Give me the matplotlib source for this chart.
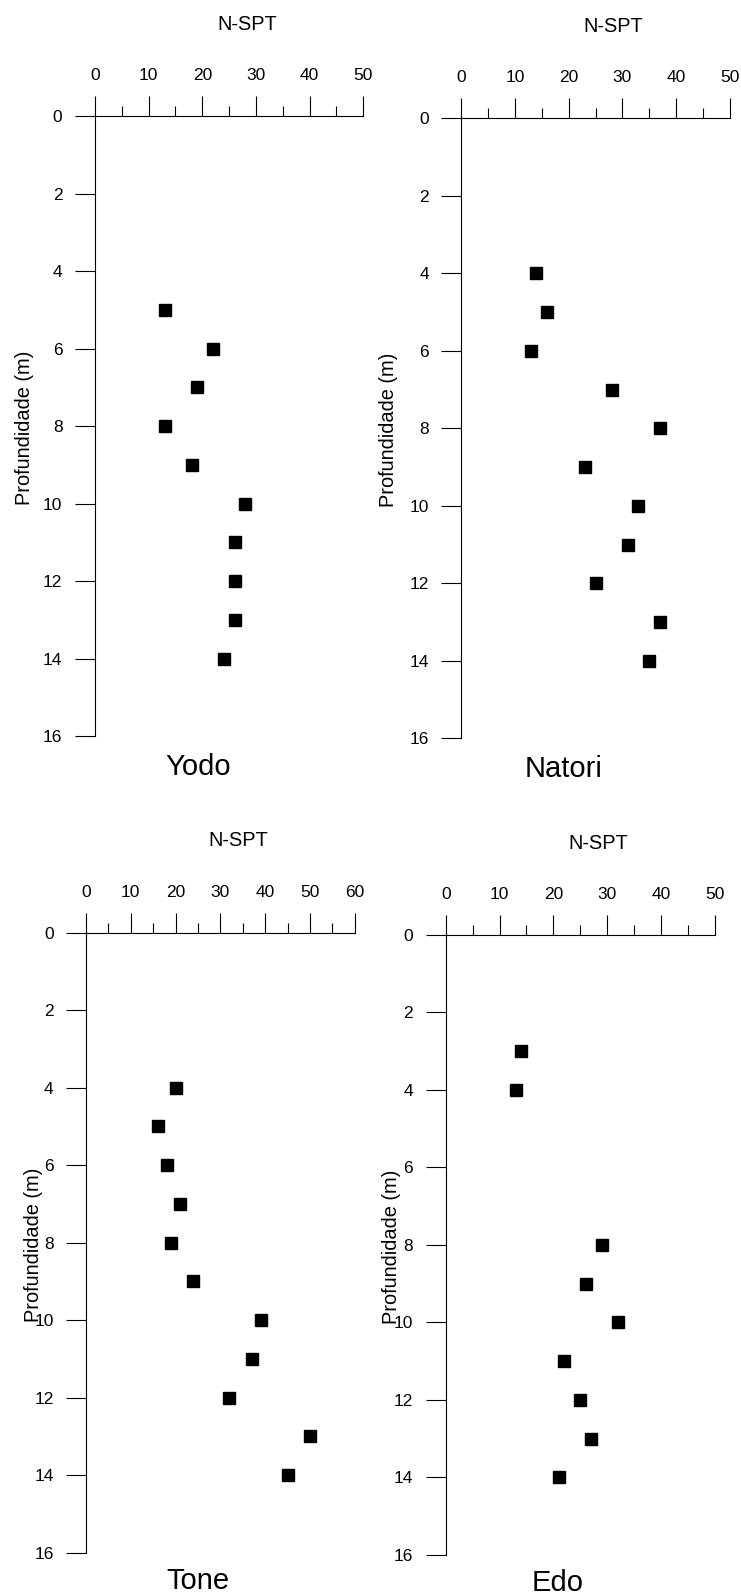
import matplotlib
matplotlib.use("Agg")
import matplotlib.pyplot as plt
from matplotlib.ticker import MultipleLocator

plt.rcParams['font.family'] = ['Liberation Sans', 'DejaVu Sans']

# ---- data ----
yodo_depth = [5, 6, 7, 8, 9, 10, 11, 12, 13, 14]
yodo_nspt = [13, 22, 19, 13, 18, 28, 26, 26, 26, 24]

natori_depth = [4, 5, 6, 7, 8, 9, 10, 11, 12, 13, 14]
natori_nspt = [14, 16, 13, 28, 37, 23, 33, 31, 25, 37, 35]

tone_depth = [4, 5, 6, 7, 8, 9, 10, 11, 12, 13, 14]
tone_nspt = [20, 16, 18, 21, 19, 24, 39, 37, 32, 50, 45]

edo_depth = [3, 4, 8, 9, 10, 11, 12, 13, 14]
edo_nspt = [14, 13, 29, 26, 32, 22, 25, 27, 21]

names = ["Yodo", "Natori", "Tone", "Edo"]
xmax = [50, 50, 60, 50]
depth_ticks = [0, 2, 4, 6, 8, 10, 12, 14, 16]
xlabel = "N-SPT"
ylabel = "Profundidade (m)"

# ---- layout ----
W, H = 741, 1595
fig = plt.figure(figsize=(W / 100, H / 100), dpi=100)

boxes = [  # left, top, right, bottom in pixels
    (95, 116.3, 363.3, 736),
    (461.3, 118.3, 729.7, 738.3),
    (86, 932.7, 354.7, 1552.7),
    (445.7, 935, 714.7, 1554.7),
]
ylab_x = [-0.2646, -0.273, -0.197, -0.200]
name_pos = [(0.384, -0.0629), (0.382, -0.0624), (0.417, -0.0585), (0.4175, -0.0586)]

datasets = [
    (yodo_nspt, yodo_depth),
    (natori_nspt, natori_depth),
    (tone_nspt, tone_depth),
    (edo_nspt, edo_depth),
]

for i, ((xs, ys), (l, t, r, b)) in enumerate(zip(datasets, boxes)):
    ax = fig.add_axes([l / W, (H - b) / H, (r - l) / W, (b - t) / H])
    ax.plot(xs, ys, linestyle='none', marker='s', markersize=8.2,
            color='black', clip_on=False)
    ax.set_xlim(0, xmax[i])
    ax.set_ylim(16, 0)
    ax.xaxis.set_major_locator(MultipleLocator(10))
    ax.xaxis.set_minor_locator(MultipleLocator(5))
    ax.set_yticks(depth_ticks)
    for s in ['right', 'bottom']:
        ax.spines[s].set_visible(False)
    for s in ['left', 'top']:
        ax.spines[s].set_linewidth(0.8)
        ax.spines[s].set_color('black')
    ax.tick_params(axis='x', which='both', top=True, bottom=False,
                   labeltop=True, labelbottom=False, direction='out',
                   width=0.8, labelsize=12.5)
    ax.tick_params(axis='x', which='major', length=14.4, pad=9.5)
    ax.tick_params(axis='x', which='minor', length=7.2)
    ax.tick_params(axis='y', which='major', left=True, right=False,
                   direction='out', length=14.4, width=0.8, pad=9,
                   labelsize=12.5)
    ax.text(0.567, 1.148, xlabel, transform=ax.transAxes, ha='center',
            va='center', fontsize=14.4)
    ax.text(ylab_x[i], 0.497, ylabel, transform=ax.transAxes, ha='center',
            va='center', rotation=90, fontsize=14.4)
    ax.text(name_pos[i][0], name_pos[i][1], names[i], transform=ax.transAxes,
            ha='center', va='baseline', fontsize=21)
    ax.set_facecolor('none')

fig.savefig("out.png", dpi=100, facecolor='white')
